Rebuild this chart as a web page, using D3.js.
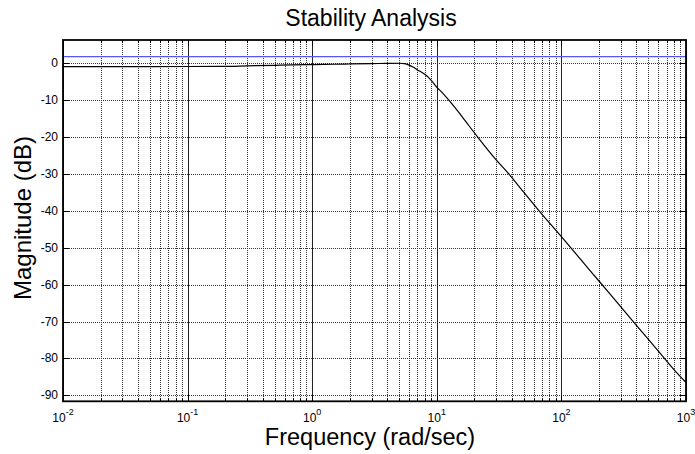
<!DOCTYPE html>
<html>
<head>
<meta charset="utf-8">
<script src="https://cdn.jsdelivr.net/npm/d3@7"></script>
<style>
  body { margin: 0; background: #fff; }
  svg { display: block; font-family: "Liberation Sans", Arial, sans-serif; }
</style>
</head>
<body>
<div id="chart"></div>
<script>
// frequency (rad/sec) and magnitude (dB)
const freq = [0.01, 0.05, 0.1, 0.2, 0.3, 0.5, 0.7, 1, 1.5, 2, 3, 4, 5, 5.5, 6, 6.5, 7, 7.5, 8, 8.5, 9, 10, 11, 12, 14, 16, 18, 22, 28, 39, 50, 67, 100, 150, 200, 300, 400, 600, 800, 1000];
const magDb = [-0.9, -0.9, -0.88, -0.85, -0.7, -0.55, -0.45, -0.35, -0.27, -0.2, -0.1, -0.03, 0, -0.1, -0.5, -1.1, -1.8, -2.4, -3, -3.7, -4.6, -6.5, -7.9, -9.3, -12, -14.5, -16.8, -20.6, -25, -30.5, -35, -40.2, -47, -54, -59, -66, -71, -78, -83, -86.5];
const refLevel = [1.8]; // blue horizontal line (dB)
const yTicks = [-90, -80, -70, -60, -50, -40, -30, -20, -10, 0];
const xDecades = [-2, -1, 0, 1, 2, 3];

const title = "Stability Analysis";
const xLabel = "Frequency (rad/sec)";
const yLabel = "Magnitude (dB)";

const width = 695, height = 454;
const plot = { left: 63, right: 686, top: 40, bottom: 401.3 };

const svg = d3.select("#chart").append("svg")
  .attr("width", width)
  .attr("height", height);

const x = d3.scaleLog().domain([0.01, 1000]).range([plot.left, plot.right]);
const y = d3.scaleLinear().domain([-91.6, 6.3]).range([plot.bottom, plot.top]);

const xTicks = x.ticks();
const decadeVals = xDecades.map((d) => Math.pow(10, d));
const isDecade = (v) => decadeVals.some((d) => Math.abs(v / d - 1) < 1e-9);

// grid
const grid = svg.append("g").attr("class", "grid");
grid.selectAll(".vgrid")
  .data(xTicks)
  .join("line")
  .attr("x1", (d) => Math.round(x(d)) + 0.5)
  .attr("x2", (d) => Math.round(x(d)) + 0.5)
  .attr("y1", plot.top)
  .attr("y2", plot.bottom)
  .attr("stroke", (d) => (isDecade(d) ? "#222" : "#333"))
  .attr("stroke-width", 1)
  .attr("stroke-dasharray", (d) => (isDecade(d) ? null : "1,1"));

grid.selectAll(".hgrid")
  .data(yTicks)
  .join("line")
  .attr("x1", plot.left)
  .attr("x2", plot.right)
  .attr("y1", (d) => Math.round(y(d)) + 0.5)
  .attr("y2", (d) => Math.round(y(d)) + 0.5)
  .attr("stroke", "#333")
  .attr("stroke-width", 1)
  .attr("stroke-dasharray", "1,1");

// blue reference line
svg.selectAll(".ref")
  .data(refLevel)
  .join("line")
  .attr("x1", plot.left)
  .attr("x2", plot.right)
  .attr("y1", (d) => y(d))
  .attr("y2", (d) => y(d))
  .attr("stroke", "#5555ff")
  .attr("stroke-width", 1.2);

// magnitude curve
const line = d3.line()
  .x((d) => x(d[0]))
  .y((d) => y(d[1]))
  .curve(d3.curveMonotoneX);

svg.append("path")
  .datum(d3.zip(freq, magDb))
  .attr("d", line)
  .attr("fill", "none")
  .attr("stroke", "#000")
  .attr("stroke-width", 1.2);

// frame
svg.append("rect")
  .attr("x", plot.left)
  .attr("y", plot.top)
  .attr("width", plot.right - plot.left)
  .attr("height", plot.bottom - plot.top)
  .attr("fill", "none")
  .attr("stroke", "#000")
  .attr("stroke-width", 1.8);

// inward ticks
const ticks = svg.append("g").attr("stroke", "#000").attr("stroke-width", 1);
xTicks.forEach((v) => {
  const len = isDecade(v) ? 6 : 3;
  const px = Math.round(x(v)) + 0.5;
  ticks.append("line").attr("x1", px).attr("x2", px).attr("y1", plot.top).attr("y2", plot.top + len);
  ticks.append("line").attr("x1", px).attr("x2", px).attr("y1", plot.bottom).attr("y2", plot.bottom - len);
});
yTicks.forEach((v) => {
  const py = Math.round(y(v)) + 0.5;
  ticks.append("line").attr("x1", plot.left).attr("x2", plot.left + 6).attr("y1", py).attr("y2", py);
  ticks.append("line").attr("x1", plot.right).attr("x2", plot.right - 6).attr("y1", py).attr("y2", py);
});

// y tick labels
svg.selectAll(".ylab")
  .data(yTicks)
  .join("text")
  .attr("x", plot.left - 5)
  .attr("y", (d) => y(d) + 4)
  .attr("text-anchor", "end")
  .attr("font-size", 12)
  .text((d) => d);

// x tick labels 10^n
const xl = svg.selectAll(".xlab")
  .data(xDecades)
  .join("text")
  .attr("x", (d) => x(Math.pow(10, d)))
  .attr("y", plot.bottom + 21)
  .attr("text-anchor", "middle")
  .attr("font-size", 12);
xl.append("tspan").text("10");
xl.append("tspan").attr("dy", -7).attr("font-size", 9).text((d) => d);

// titles
svg.append("text")
  .attr("x", 371)
  .attr("y", 26)
  .attr("text-anchor", "middle")
  .attr("font-size", 23)
  .text(title);

svg.append("text")
  .attr("x", 370)
  .attr("y", 445)
  .attr("text-anchor", "middle")
  .attr("font-size", 23.5)
  .text(xLabel);

svg.append("text")
  .attr("transform", "translate(31,218) rotate(-90)")
  .attr("text-anchor", "middle")
  .attr("font-size", 24)
  .text(yLabel);
</script>
</body>
</html>
